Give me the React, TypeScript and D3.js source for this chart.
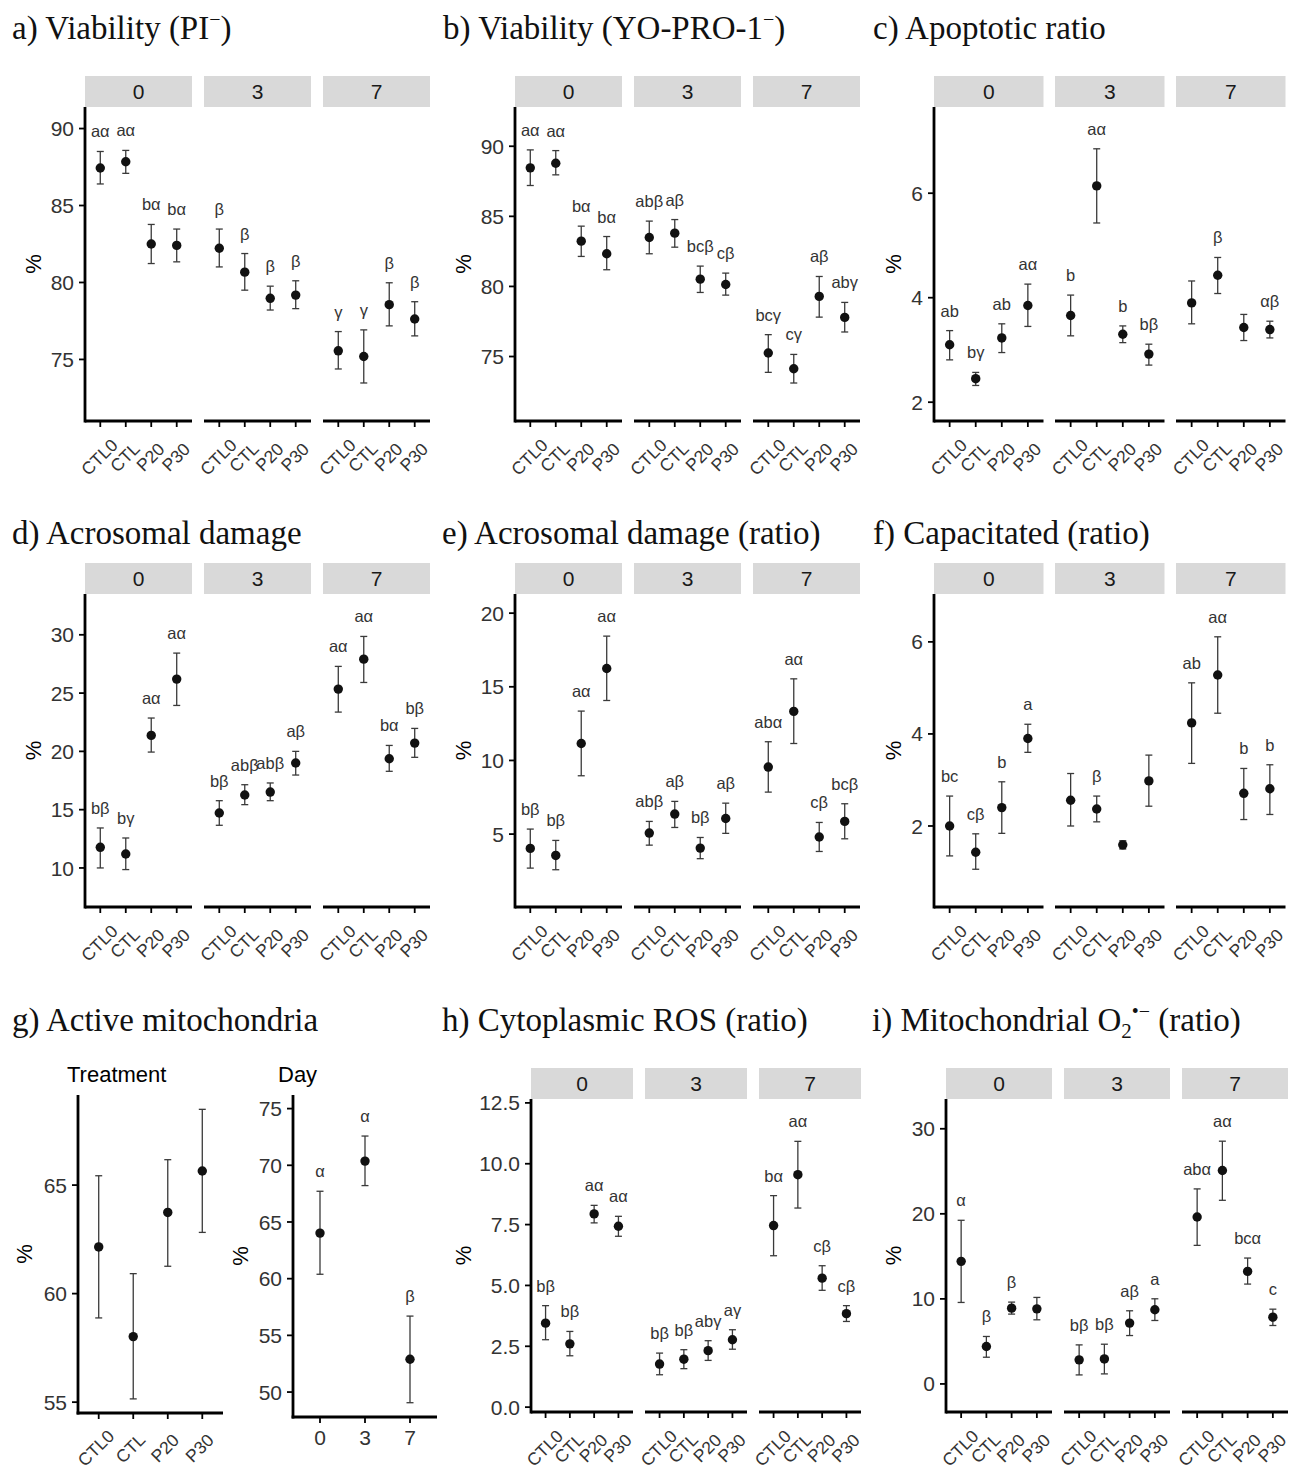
import React from "react";
import * as d3 from "d3";

// ---------- categories ----------
const treatments = ["CTL0", "CTL", "P20", "P30"];
const days = ["0", "3", "7"];

// ---------- a) Viability (PI-) ----------
const viabPIMean = [87.44, 87.84, 82.5, 82.41, 82.22, 80.67, 78.97, 79.18, 75.56, 75.19, 78.56, 77.63];
const viabPIHi = [88.51, 88.58, 83.77, 83.47, 83.47, 81.88, 79.76, 80.11, 76.81, 76.92, 79.98, 78.75];
const viabPILo = [86.4, 87.09, 81.23, 81.34, 81.01, 79.5, 78.21, 78.3, 74.38, 73.47, 77.18, 76.53];
const viabPILab = ["aα", "aα", "bα", "bα", "β", "β", "β", "β", "γ", "γ", "β", "β"];
const viabPITicks = [75, 80, 85, 90];

// ---------- b) Viability (YO-PRO-1-) ----------
const viabYOMean = [88.46, 88.79, 83.23, 82.33, 83.49, 83.8, 80.52, 80.14, 75.25, 74.13, 79.29, 77.79];
const viabYOHi = [89.74, 89.69, 84.3, 83.56, 84.66, 84.77, 81.45, 80.95, 76.56, 75.15, 80.71, 78.86];
const viabYOLo = [87.2, 87.96, 82.14, 81.19, 82.33, 82.8, 79.57, 79.38, 73.87, 73.11, 77.81, 76.75];
const viabYOLab = ["aα", "aα", "bα", "bα", "abβ", "aβ", "bcβ", "cβ", "bcγ", "cγ", "aβ", "abγ"];
const viabYOTicks = [75, 80, 85, 90];

// ---------- c) Apoptotic ratio ----------
const apoMean = [3.1, 2.45, 3.23, 3.85, 3.66, 6.14, 3.3, 2.92, 3.9, 4.43, 3.43, 3.39];
const apoHi = [3.37, 2.57, 3.5, 4.26, 4.05, 6.85, 3.46, 3.11, 4.32, 4.77, 3.68, 3.55];
const apoLo = [2.81, 2.32, 2.95, 3.45, 3.27, 5.43, 3.14, 2.71, 3.5, 4.08, 3.18, 3.23];
const apoLab = ["ab", "bγ", "ab", "aα", "b", "aα", "b", "bβ", "", "β", "", "αβ"];
const apoTicks = [2, 4, 6];

// ---------- d) Acrosomal damage ----------
const acroMean = [11.77, 11.2, 21.37, 26.2, 14.71, 16.26, 16.51, 19.0, 25.34, 27.91, 19.37, 20.71];
const acroHi = [13.43, 12.57, 22.86, 28.43, 15.77, 17.14, 17.29, 20.0, 27.29, 29.86, 20.51, 21.97];
const acroLo = [10.0, 9.86, 19.94, 23.94, 13.66, 15.43, 15.77, 17.97, 23.37, 25.91, 18.29, 19.49];
const acroLab = ["bβ", "bγ", "aα", "aα", "bβ", "abβ", "abβ", "aβ", "aα", "aα", "bα", "bβ"];
const acroTicks = [10, 15, 20, 25, 30];

// ---------- e) Acrosomal damage (ratio) ----------
const acroRMean = [4.03, 3.55, 11.15, 16.24, 5.07, 6.36, 4.05, 6.06, 9.55, 13.33, 4.8, 5.86];
const acroRHi = [5.34, 4.57, 13.35, 18.44, 5.86, 7.22, 4.77, 7.1, 11.27, 15.54, 5.79, 7.06];
const acroRLo = [2.69, 2.58, 8.96, 14.07, 4.25, 5.45, 3.33, 5.05, 7.85, 11.15, 3.82, 4.68];
const acroRLab = ["bβ", "bβ", "aα", "aα", "abβ", "aβ", "bβ", "aβ", "abα", "aα", "cβ", "bcβ"];
const acroRTicks = [5, 10, 15, 20];

// ---------- f) Capacitated (ratio) ----------
const capMean = [2.0, 1.43, 2.4, 3.9, 2.56, 2.37, 1.59, 2.98, 4.24, 5.28, 2.71, 2.81];
const capHi = [2.65, 1.83, 2.96, 4.21, 3.14, 2.65, 1.68, 3.54, 5.11, 6.11, 3.25, 3.33];
const capLo = [1.35, 1.06, 1.84, 3.6, 2.0, 2.09, 1.5, 2.43, 3.36, 4.45, 2.14, 2.25];
const capLab = ["bc", "cβ", "b", "a", "", "β", "", "", "ab", "aα", "b", "b"];
const capTicks = [2, 4, 6];

// ---------- g) Active mitochondria ----------
const mitoTreatMean = [62.15, 58.02, 63.74, 65.65];
const mitoTreatHi = [65.43, 60.92, 66.17, 68.49];
const mitoTreatLo = [58.88, 55.15, 61.26, 62.82];
const mitoTreatTicks = [55, 60, 65];
const mitoDayMean = [64.02, 70.37, 52.89];
const mitoDayHi = [67.71, 72.58, 56.7];
const mitoDayLo = [60.39, 68.21, 49.06];
const mitoDayLab = ["α", "α", "β"];
const mitoDayTicks = [50, 55, 60, 65, 70, 75];

// ---------- h) Cytoplasmic ROS (ratio) ----------
const rosMean = [3.45, 2.6, 7.94, 7.43, 1.77, 1.97, 2.32, 2.77, 7.46, 9.55, 5.3, 3.84];
const rosHi = [4.17, 3.11, 8.29, 7.84, 2.22, 2.36, 2.73, 3.18, 8.69, 10.92, 5.81, 4.17];
const rosLo = [2.77, 2.11, 7.57, 7.02, 1.33, 1.58, 1.92, 2.38, 6.22, 8.18, 4.8, 3.52];
const rosLab = ["bβ", "bβ", "aα", "aα", "bβ", "bβ", "abγ", "aγ", "bα", "aα", "cβ", "cβ"];
const rosTicks = [0, 2.5, 5, 7.5, 10, 12.5];

// ---------- i) Mitochondrial O2•- (ratio) ----------
const supMean = [14.41, 4.4, 8.91, 8.83, 2.83, 2.94, 7.15, 8.72, 19.63, 25.09, 13.23, 7.85];
const supHi = [19.24, 5.58, 9.62, 10.17, 4.59, 4.67, 8.6, 10.01, 22.93, 28.54, 14.8, 8.79];
const supLo = [9.58, 3.14, 8.21, 7.54, 1.06, 1.18, 5.69, 7.46, 16.29, 21.59, 11.74, 6.87];
const supLab = ["α", "β", "β", "", "bβ", "bβ", "aβ", "a", "abα", "aα", "bcα", "c"];
const supTicks = [0, 10, 20, 30];

// ---------- styling ----------
const SANS = "'Liberation Sans', Arial, Helvetica, sans-serif";
const SERIF = "'Liberation Serif', 'Times New Roman', serif";
const AXIS_W = 2.8;
const TEXT_GREY = "#333333";
const BAR_COL = "#3a3a3a";
const PT_COL = "#111111";
const TICK_FS = 21;
const XLAB_FS = 17.5;
const LAB_FS = 16.5;

type Layout = {
  x0: number;
  facetW: number;
  gap: number;
  stripTop: number;
  top: number;
  bottom: number;
  yMin: number;
  yMax: number;
  yTitleX: number;
};

const row1 = { stripTop: 76, top: 107, bottom: 421 };
const row2 = { stripTop: 563, top: 594, bottom: 907 };
const row3 = { stripTop: 1068, top: 1099, bottom: 1412 };
const colA = { x0: 85, facetW: 107, gap: 12, yTitleX: 33 };
const colB = { x0: 515, facetW: 107, gap: 12, yTitleX: 463 };
const colC = { x0: 934, facetW: 109.5, gap: 11.5, yTitleX: 893 };

function ErrPoint({ cx, y, m, hi, lo, lab }: { cx: number; y: d3.ScaleLinear<number, number>; m: number; hi: number; lo: number; lab?: string }) {
  const cap = 3.5;
  return (
    <g>
      <line x1={cx} x2={cx} y1={y(hi)} y2={y(lo)} stroke={BAR_COL} strokeWidth={1.3} />
      <line x1={cx - cap} x2={cx + cap} y1={y(hi)} y2={y(hi)} stroke={BAR_COL} strokeWidth={1.3} />
      <line x1={cx - cap} x2={cx + cap} y1={y(lo)} y2={y(lo)} stroke={BAR_COL} strokeWidth={1.3} />
      <circle cx={cx} cy={y(m)} r={4.7} fill={PT_COL} />
      {lab ? (
        <text x={cx} y={y(hi) - 14} textAnchor="middle" fontSize={LAB_FS} fontFamily={SANS} fill={TEXT_GREY}>
          {lab}
        </text>
      ) : null}
    </g>
  );
}

function YAxis({ x0, top, bottom, y, ticks, fmt, titleX }: { x0: number; top: number; bottom: number; y: d3.ScaleLinear<number, number>; ticks: number[]; fmt: (v: number) => string; titleX: number }) {
  return (
    <g>
      <line x1={x0} x2={x0} y1={top} y2={bottom + AXIS_W / 2} stroke="#000" strokeWidth={AXIS_W} />
      {ticks.map((t) => (
        <g key={t}>
          <line x1={x0 - 6} x2={x0} y1={y(t)} y2={y(t)} stroke="#000" strokeWidth={1.8} />
          <text x={x0 - 11} y={y(t)} dy="0.36em" textAnchor="end" fontSize={TICK_FS} fontFamily={SANS} fill={TEXT_GREY}>
            {fmt(t)}
          </text>
        </g>
      ))}
      <text
        transform={`translate(${titleX},${(top + bottom) / 2}) rotate(-90)`}
        dy="0.36em"
        textAnchor="middle"
        fontSize={22}
        fontFamily={SANS}
        fill="#000"
      >
        %
      </text>
    </g>
  );
}

function FacetPanel({ layout, mean, hi, lo, lab, ticks, fmt }: { layout: Layout; mean: number[]; hi: number[]; lo: number[]; lab: string[]; ticks: number[]; fmt?: (v: number) => string }) {
  const y = d3.scaleLinear().domain([layout.yMin, layout.yMax]).range([layout.bottom, layout.top]);
  const f = fmt || d3.format("d");
  return (
    <g>
      {days.map((day, di) => {
        const fx = layout.x0 + di * (layout.facetW + layout.gap);
        const x = d3.scalePoint<string>().domain(treatments).range([fx, fx + layout.facetW]).padding(0.6);
        return (
          <g key={day}>
            <rect x={fx} y={layout.stripTop} width={layout.facetW} height={layout.top - layout.stripTop} fill="#d9d9d9" />
            <text
              x={fx + layout.facetW / 2}
              y={(layout.stripTop + layout.top) / 2}
              dy="0.36em"
              textAnchor="middle"
              fontSize={21}
              fontFamily={SANS}
              fill="#1a1a1a"
            >
              {day}
            </text>
            <line x1={fx} x2={fx + layout.facetW} y1={layout.bottom} y2={layout.bottom} stroke="#000" strokeWidth={AXIS_W} />
            {treatments.map((t, ti) => {
              const i = di * treatments.length + ti;
              const cx = x(t) as number;
              return (
                <g key={t}>
                  <line x1={cx} x2={cx} y1={layout.bottom} y2={layout.bottom + 6} stroke="#000" strokeWidth={1.8} />
                  <text
                    transform={`translate(${cx - 1},${layout.bottom + 36}) rotate(-45)`}
                    dy="0.36em"
                    textAnchor="middle"
                    fontSize={XLAB_FS}
                    fontFamily={SANS}
                    fill={TEXT_GREY}
                  >
                    {t}
                  </text>
                  <ErrPoint cx={cx} y={y} m={mean[i]} hi={hi[i]} lo={lo[i]} lab={lab[i]} />
                </g>
              );
            })}
          </g>
        );
      })}
      <YAxis x0={layout.x0} top={layout.top} bottom={layout.bottom} y={y} ticks={ticks} fmt={f} titleX={layout.yTitleX} />
    </g>
  );
}

function Title({ x, y, children }: { x: number; y: number; children: React.ReactNode }) {
  return (
    <text x={x} y={y} fontSize={33} fontFamily={SERIF} fill="#111">
      {children}
    </text>
  );
}

function MitoPanel() {
  // Treatment sub-plot
  const tLeft = 78, tRight = 223, tTop = 1095, tBottom = 1413;
  const yT = d3.scaleLinear().domain([54.5, 69.15]).range([tBottom, tTop]);
  const xT = d3.scalePoint<string>().domain(treatments).range([tLeft, tRight]).padding(0.6);
  // Day sub-plot
  const dLeft = 293, dRight = 437, dTop = 1095, dBottom = 1417;
  const yD = d3.scaleLinear().domain([47.8, 76.2]).range([dBottom, dTop]);
  const xD = d3.scalePoint<string>().domain(days).range([dLeft, dRight]).padding(0.6);
  const f = d3.format("d");
  return (
    <g>
      <text x={67} y={1082} fontSize={22} fontFamily={SANS} fill="#000">Treatment</text>
      <line x1={tLeft - AXIS_W / 2} x2={tRight} y1={tBottom} y2={tBottom} stroke="#000" strokeWidth={AXIS_W} />
      {treatments.map((t, i) => {
        const cx = xT(t) as number;
        return (
          <g key={t}>
            <line x1={cx} x2={cx} y1={tBottom} y2={tBottom + 6} stroke="#000" strokeWidth={1.8} />
            <text
              transform={`translate(${cx - 3},${tBottom + 35}) rotate(-45)`}
              dy="0.36em"
              textAnchor="middle"
              fontSize={XLAB_FS}
              fontFamily={SANS}
              fill={TEXT_GREY}
            >
              {t}
            </text>
            <ErrPoint cx={cx} y={yT} m={mitoTreatMean[i]} hi={mitoTreatHi[i]} lo={mitoTreatLo[i]} />
          </g>
        );
      })}
      <YAxis x0={tLeft} top={tTop} bottom={tBottom} y={yT} ticks={mitoTreatTicks} fmt={f} titleX={24} />

      <text x={278} y={1082} fontSize={22} fontFamily={SANS} fill="#000">Day</text>
      <line x1={dLeft - AXIS_W / 2} x2={dRight} y1={dBottom} y2={dBottom} stroke="#000" strokeWidth={AXIS_W} />
      {days.map((d, i) => {
        const cx = xD(d) as number;
        return (
          <g key={d}>
            <line x1={cx} x2={cx} y1={dBottom} y2={dBottom + 6} stroke="#000" strokeWidth={1.8} />
            <text x={cx} y={dBottom + 28} textAnchor="middle" fontSize={TICK_FS} fontFamily={SANS} fill={TEXT_GREY}>
              {d}
            </text>
            <ErrPoint cx={cx} y={yD} m={mitoDayMean[i]} hi={mitoDayHi[i]} lo={mitoDayLo[i]} lab={mitoDayLab[i]} />
          </g>
        );
      })}
      <YAxis x0={dLeft} top={dTop} bottom={dBottom} y={yD} ticks={mitoDayTicks} fmt={f} titleX={240} />
    </g>
  );
}

export default function App() {
  return (
    <svg
      width={1290}
      height={1469}
      viewBox="0 0 1290 1469"
      style={{ position: "absolute", left: 0, top: 0, background: "#fff" }}
    >
      <rect x={0} y={0} width={1290} height={1469} fill="#fff" />

      {/* Row 1 */}
      <Title x={12} y={39}>
        a) Viability (PI<tspan fontSize={20} dy={-13}>−</tspan><tspan dy={13}>)</tspan>
      </Title>
      <Title x={443} y={39}>
        b) Viability (YO-PRO-1<tspan fontSize={20} dy={-13}>−</tspan><tspan dy={13}>)</tspan>
      </Title>
      <Title x={873} y={39}>c) Apoptotic ratio</Title>
      <FacetPanel layout={{ ...colA, ...row1, yMin: 71.0, yMax: 91.4 }} mean={viabPIMean} hi={viabPIHi} lo={viabPILo} lab={viabPILab} ticks={viabPITicks} />
      <FacetPanel layout={{ ...colB, ...row1, yMin: 70.4, yMax: 92.8 }} mean={viabYOMean} hi={viabYOHi} lo={viabYOLo} lab={viabYOLab} ticks={viabYOTicks} />
      <FacetPanel layout={{ ...colC, ...row1, yMin: 1.64, yMax: 7.65 }} mean={apoMean} hi={apoHi} lo={apoLo} lab={apoLab} ticks={apoTicks} />

      {/* Row 2 */}
      <Title x={12} y={544}>d) Acrosomal damage</Title>
      <Title x={442} y={544}>e) Acrosomal damage (ratio)</Title>
      <Title x={873} y={544}>f) Capacitated (ratio)</Title>
      <FacetPanel layout={{ ...colA, ...row2, yMin: 6.65, yMax: 33.5 }} mean={acroMean} hi={acroHi} lo={acroLo} lab={acroLab} ticks={acroTicks} />
      <FacetPanel layout={{ ...colB, ...row2, yMin: 0.05, yMax: 21.3 }} mean={acroRMean} hi={acroRHi} lo={acroRLo} lab={acroRLab} ticks={acroRTicks} />
      <FacetPanel layout={{ ...colC, ...row2, yMin: 0.24, yMax: 7.04 }} mean={capMean} hi={capHi} lo={capLo} lab={capLab} ticks={capTicks} />

      {/* Row 3 */}
      <Title x={12} y={1031}>g) Active mitochondria</Title>
      <Title x={442} y={1031}>h) Cytoplasmic ROS (ratio)</Title>
      <Title x={872} y={1031}>
        i) Mitochondrial O<tspan fontSize={21} dy={7}>2</tspan><tspan fontSize={20} dy={-20}>•−</tspan><tspan dy={13}> (ratio)</tspan>
      </Title>
      <MitoPanel />
      <FacetPanel
        layout={{ x0: 531, facetW: 102, gap: 12, yTitleX: 463, ...row3, yMin: -0.2, yMax: 12.66 }}
        mean={rosMean}
        hi={rosHi}
        lo={rosLo}
        lab={rosLab}
        ticks={rosTicks}
        fmt={d3.format(".1f")}
      />
      <FacetPanel
        layout={{ x0: 946, facetW: 106, gap: 12, yTitleX: 893, ...row3, yMin: -3.3, yMax: 33.5 }}
        mean={supMean}
        hi={supHi}
        lo={supLo}
        lab={supLab}
        ticks={supTicks}
      />
    </svg>
  );
}
